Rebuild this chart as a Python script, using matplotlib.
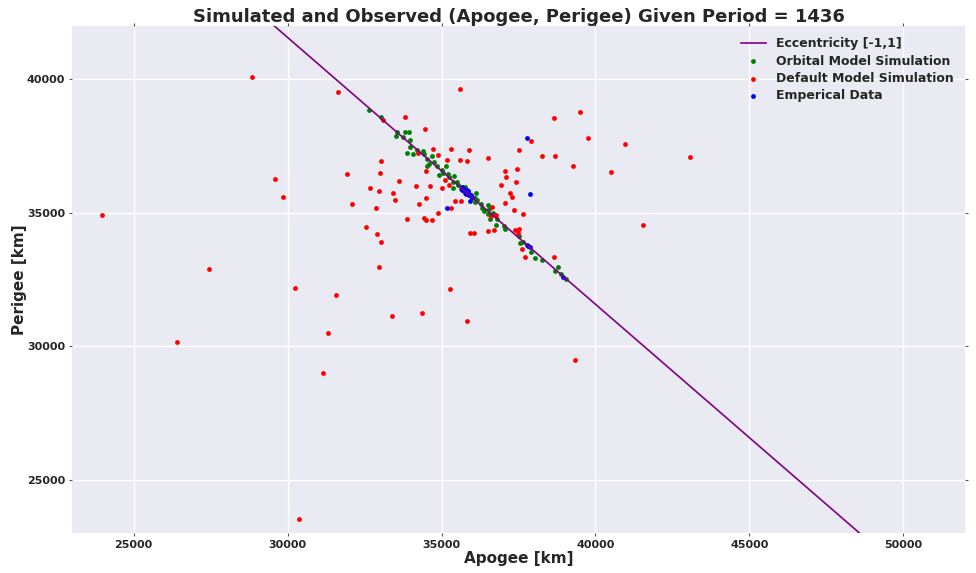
import numpy as np
import matplotlib
matplotlib.use('Agg')
import matplotlib.pyplot as plt

# eccentricity line end points (e = -1 and e = 1), km
ecc_apogee = [-6378, 77950]
ecc_perigee = [77950, -6378]

orbital_apogee = [32640, 33020, 33540, 33520, 33800, 33930, 33760, 33990, 33970, 33890,
                  34060, 34190, 34430, 34540, 34700, 34580, 34530, 34750, 34840, 34930,
                  35130, 35040, 35250, 35400, 35360, 35490, 35370, 35620, 35760, 36120,
                  36080, 36080, 36270, 36500, 36320, 36550, 36370, 36500, 36660, 36570,
                  36800, 36760, 37030, 37070, 37510, 37640, 37550, 37890, 38020, 38260,
                  38780, 38670, 38890, 39040, 35700, 35900, 36000, 35650, 35850, 36150,
                  35550, 35200, 35000, 34400]
orbital_perigee = [38860, 38580, 38030, 37860, 38010, 38010, 37850, 37720, 37450, 37240,
                   37190, 37360, 37210, 37000, 37140, 36830, 36740, 36900, 36750, 36430,
                   36750, 36510, 36350, 36390, 36150, 36140, 35930, 35900, 35950, 35730,
                   35560, 35400, 35340, 35290, 35180, 35140, 35060, 34960, 34990, 34760,
                   34780, 34550, 34500, 34410, 34140, 33910, 33850, 33530, 33310, 33230,
                   32960, 32830, 32710, 32510, 35850, 35650, 35550, 35980, 35800, 35480,
                   36050, 36450, 36600, 37300]

default_apogee = [28840, 29580, 29860, 23970, 27450, 26400, 30370, 30230, 31150, 31320,
                  31570, 31640, 31940, 32080, 33090, 33820, 34460, 34710, 34900, 34220,
                  33020, 34490, 32990, 33620, 34180, 34630, 32690, 32970, 33420, 33500,
                  34490, 34280, 32880, 35610, 38660, 39490, 37910, 39760, 35310, 35880,
                  37520, 35180, 35600, 35840, 36520, 38250, 38670, 39270, 37050, 37460,
                  37110, 37430, 36940, 37230, 37290, 37070, 37350, 35100, 35230, 35020,
                  35440, 35640, 35320, 36650, 33880, 34420, 34500, 34700, 34880, 32560,
                  32900, 33040, 32970, 33400, 34370, 37640, 35920, 36060, 36510, 36700,
                  36600, 36760, 37390, 37500, 37470, 37620, 37700, 38650, 35260, 35820,
                  39320, 40960, 40510, 43070, 41550]
default_perigee = [40090, 36270, 35580, 34930, 32890, 30160, 23510, 32180, 28990, 30510,
                   31910, 39530, 36440, 35340, 38460, 38580, 38130, 37390, 37160, 37240,
                   36960, 36580, 36480, 36210, 36010, 36000, 35930, 35800, 35750, 35480,
                   35550, 35330, 35180, 39650, 38540, 38790, 37690, 37800, 37400, 37350,
                   37360, 36990, 36980, 36940, 37060, 37140, 37130, 36750, 36550, 36630,
                   36360, 36140, 36060, 35740, 35580, 35380, 35110, 36230, 36030, 35930,
                   35460, 35450, 35180, 35230, 34750, 34810, 34730, 34730, 34990, 34480,
                   34210, 33910, 32960, 31140, 31260, 34960, 34240, 34260, 34300, 34340,
                   34880, 34930, 34350, 34390, 34260, 33630, 33330, 33360, 32140, 30930,
                   29480, 37560, 36540, 37080, 34560]

emp_apogee = [37770, 37860, 35170, 35930, 37760, 37870, 37820, 38930, 35700, 35750,
              35780, 35820, 35850, 35880, 35760, 35680, 35900, 35800, 35720, 35950,
              35830, 35870, 35650, 35990]
emp_perigee = [37790, 35690, 35170, 35430, 33780, 33700, 33740, 32610, 35900, 35850,
               35800, 35780, 35740, 35700, 35760, 35840, 35680, 35720, 35900, 35650,
               35870, 35800, 35950, 35600]

plt.rcParams['font.family'] = 'DejaVu Sans'
plt.rcParams['font.weight'] = 'bold'

fig = plt.figure(figsize=(9.76, 5.73), dpi=100)
ax = fig.add_axes([0.0738, 0.0698, 0.9149, 0.8848])
ax.set_facecolor('#EAEAF2')
for s in ax.spines.values():
    s.set_visible(False)
ax.grid(True, color='white', linewidth=1.0)
ax.set_axisbelow(True)

ax.plot(ecc_apogee, ecc_perigee, color='purple', linewidth=1.2,
        label='Eccentricity [-1,1]', zorder=4)
ax.scatter(orbital_apogee, orbital_perigee, s=12, color='green', linewidths=0,
           label='Orbital Model Simulation', zorder=3)
ax.scatter(default_apogee, default_perigee, s=12, color='red', linewidths=0,
           label='Default Model Simulation', zorder=3)
ax.scatter(emp_apogee, emp_perigee, s=12, color='blue', linewidths=0,
           label='Emperical Data', zorder=3)

ax.set_xlim(23000, 52000)
ax.set_ylim(23000, 42000)
ax.set_xticks([25000, 30000, 35000, 40000, 45000, 50000])
ax.set_yticks([25000, 30000, 35000, 40000])
ax.tick_params(axis='both', which='both', direction='out', length=2, color='#555555',
               labelsize=8, top=True, right=True, pad=3)
for lab in ax.get_xticklabels() + ax.get_yticklabels():
    lab.set_fontweight('bold')
    lab.set_color('#262626')

ax.set_title('Simulated and Observed (Apogee, Perigee) Given Period = 1436',
             fontsize=13, fontweight='bold', color='#262626', pad=3)
ax.set_xlabel('Apogee [km]', fontsize=11, fontweight='bold', color='#262626', labelpad=1)
ax.set_ylabel('Perigee [km]', fontsize=11, fontweight='bold', color='#262626', labelpad=0)

leg = ax.legend(loc='upper right', frameon=False, scatterpoints=1,
                prop={'size': 9, 'weight': 'bold'}, borderaxespad=0.5,
                handletextpad=0.8, labelspacing=0.35)
for t in leg.get_texts():
    t.set_color('#262626')

fig.savefig('out.png', dpi=100)
